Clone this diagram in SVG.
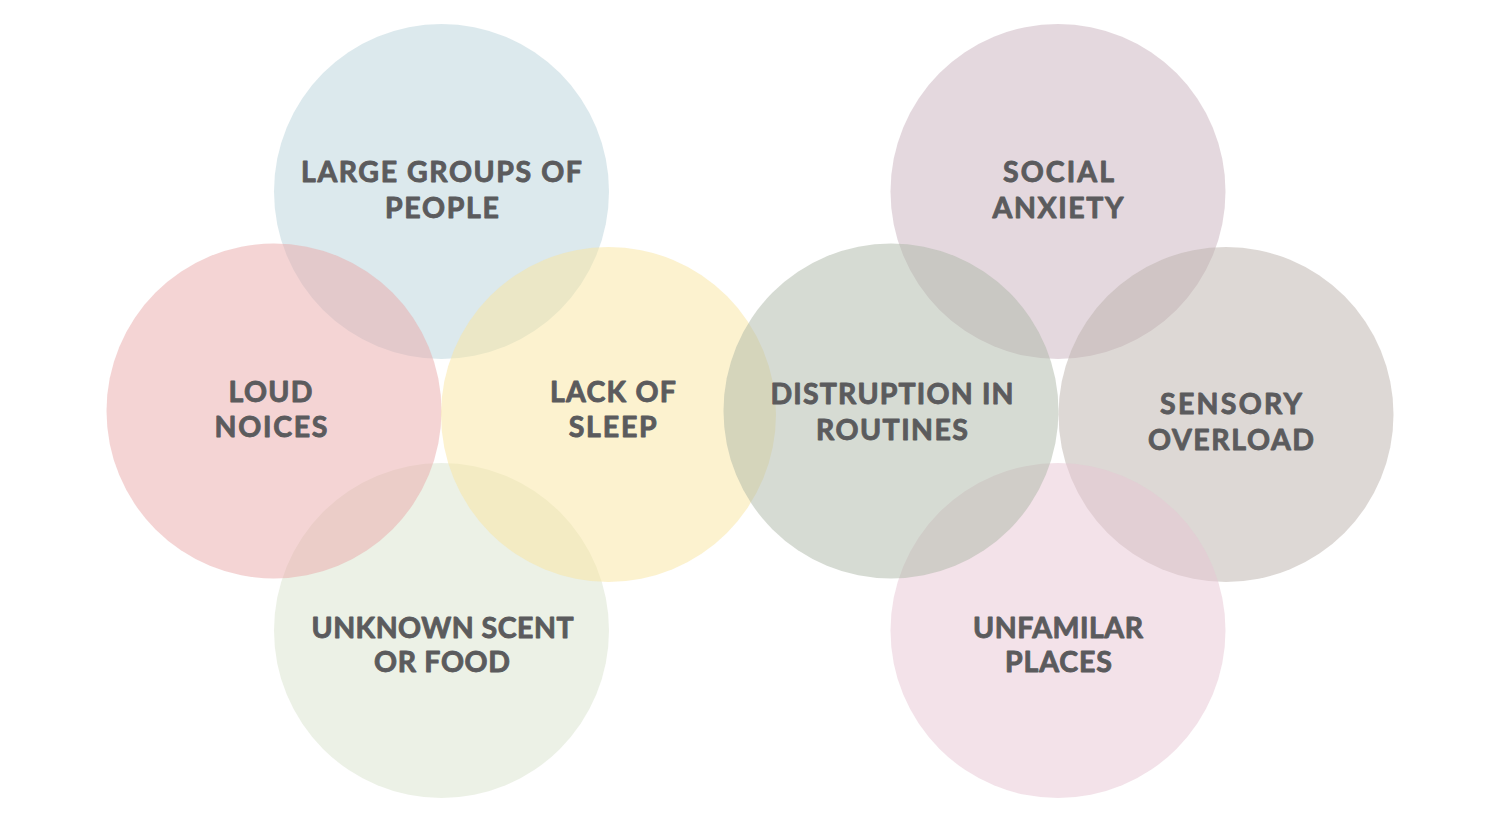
<svg xmlns="http://www.w3.org/2000/svg" width="1508" height="818" viewBox="0 0 1508 818">
<style>
.c{fill-opacity:0.5}
.t{font-family:Lato,"Noto Sans","Liberation Sans",sans-serif;font-weight:700;font-size:28.5px;fill:#5b5b5d;stroke:#5b5b5d;stroke-width:0.9px;stroke-linejoin:round;text-anchor:middle}
</style>
<rect width="1508" height="818" fill="#ffffff"/>
<g id="large-groups">
<circle class="c" cx="441.5" cy="191.5" r="167.5" fill="#b9d3db"/>
</g>
<g id="unknown-scent">
<circle class="c" cx="441.5" cy="630.5" r="167.5" fill="#d9e3cd"/>
</g>
<g id="loud-noices">
<circle class="c" cx="274" cy="411" r="167.5" fill="#e9a9a9"/>
</g>
<g id="lack-of-sleep">
<circle class="c" cx="608.5" cy="414.5" r="167.5" fill="#f9e59f"/>
</g>
<g id="social-anxiety">
<circle class="c" cx="1058" cy="191.5" r="167.5" fill="#c9b1bd"/>
</g>
<g id="sensory-overload">
<circle class="c" cx="1226" cy="414.5" r="167.5" fill="#bbb1ab"/>
</g>
<g id="unfamilar-places">
<circle class="c" cx="1058" cy="630.5" r="167.5" fill="#e7c5d3"/>
</g>
<g id="distruption">
<circle class="c" cx="891" cy="411" r="167.5" fill="#adb7a7"/>
</g>
<g id="labels">
<text class="t" x="441.5" y="182" textLength="281" lengthAdjust="spacing">LARGE GROUPS OF</text>
<text class="t" x="442" y="218" textLength="114" lengthAdjust="spacing">PEOPLE</text>
<text class="t" x="270.5" y="402" textLength="84" lengthAdjust="spacing">LOUD</text>
<text class="t" x="271" y="437" textLength="113" lengthAdjust="spacing">NOICES</text>
<text class="t" x="613" y="402" textLength="126" lengthAdjust="spacing">LACK OF</text>
<text class="t" x="612.7" y="437" textLength="88" lengthAdjust="spacing">SLEEP</text>
<text class="t" x="892" y="404" textLength="243" lengthAdjust="spacing">DISTRUPTION IN</text>
<text class="t" x="892" y="440" textLength="152" lengthAdjust="spacing">ROUTINES</text>
<text class="t" x="1231" y="414" textLength="142" lengthAdjust="spacing">SENSORY</text>
<text class="t" x="1231" y="450" textLength="166" lengthAdjust="spacing">OVERLOAD</text>
<text class="t" x="442.5" y="638" textLength="262" lengthAdjust="spacing">UNKNOWN SCENT</text>
<text class="t" x="442" y="672" textLength="136" lengthAdjust="spacing">OR FOOD</text>
<text class="t" x="1058.5" y="182" textLength="111" lengthAdjust="spacing">SOCIAL</text>
<text class="t" x="1058" y="218" textLength="131" lengthAdjust="spacing">ANXIETY</text>
<text class="t" x="1058" y="638" textLength="170" lengthAdjust="spacing">UNFAMILAR</text>
<text class="t" x="1058.5" y="672" textLength="107" lengthAdjust="spacing">PLACES</text>
</g>
</svg>
